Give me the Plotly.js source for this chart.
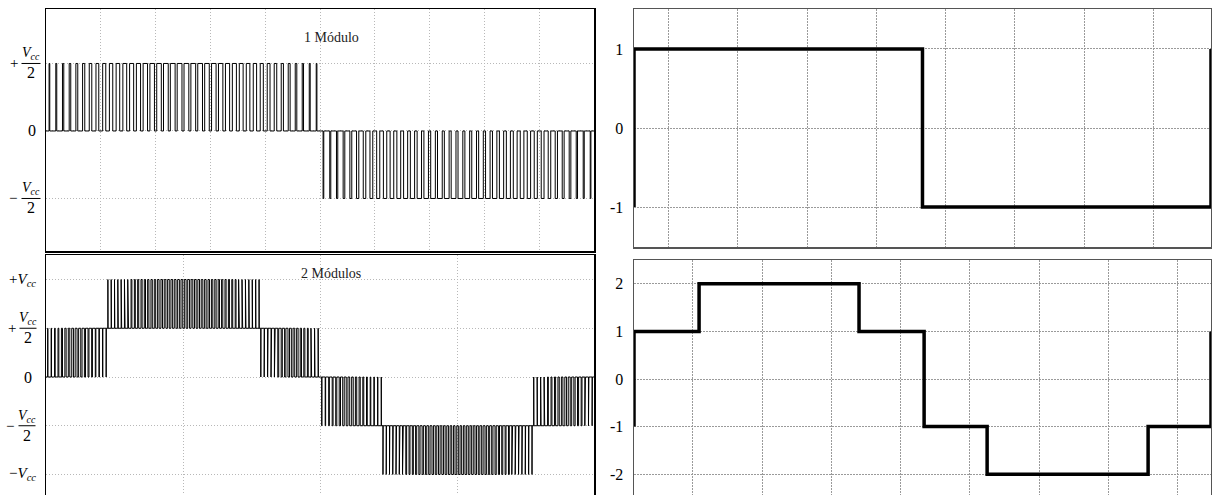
<!DOCTYPE html>
<html><head><meta charset="utf-8">
<script src="https://cdn.plot.ly/plotly-3.0.1.min.js"></script>
<style>html,body{margin:0;padding:0;overflow:hidden;background:#fff}#chart{width:1212px;height:500px}</style>
</head><body><div id="chart"></div>
<script>
// ---------------- data ----------------
// Top-left (1 Módulo): pulse duty per carrier period, positive and negative half-cycle
const duty1Pos = [0.10,0.14,0.19,0.23,0.28,0.32,0.37,0.41,0.45,0.49,0.52,0.56,0.59,0.61,0.64,0.66,0.67,0.69,0.70,0.70,
                  0.70,0.70,0.69,0.67,0.66,0.64,0.61,0.59,0.56,0.52,0.49,0.45,0.41,0.37,0.32,0.28,0.23,0.19,0.14,0.10];
const duty1Neg = [0.10,0.15,0.19,0.24,0.28,0.33,0.37,0.41,0.45,0.49,0.53,0.56,0.59,0.62,0.64,0.66,0.68,0.69,0.70,0.70,
                  0.70,0.70,0.69,0.68,0.66,0.64,0.62,0.59,0.56,0.53,0.49,0.45,0.41,0.37,0.33,0.28,0.24,0.19,0.15,0.10];
// Bottom-left (2 Módulos): duty per pulse in each level band
const dutyA = [0.06,0.12,0.18,0.24,0.30,0.36,0.42,0.48,0.54,0.60,0.66,0.71,0.76,0.81,0.86,0.90,0.94];
const dutyB = [0.04,0.07,0.10,0.13,0.16,0.19,0.22,0.25,0.28,0.31,0.33,0.36,0.38,0.40,0.42,0.44,0.46,0.48,0.49,0.50,0.51,0.52,0.52,
               0.52,0.52,0.51,0.50,0.49,0.48,0.46,0.44,0.42,0.40,0.38,0.36,0.33,0.31,0.28,0.25,0.22,0.19,0.16,0.13,0.10,0.07,0.04];
const dutyC = [0.94,0.90,0.86,0.81,0.76,0.71,0.66,0.60,0.54,0.48,0.42,0.36,0.30,0.24,0.18,0.12,0.06];
const segStart = [0.00, 1.10, 3.92, 5.00, 6.12, 8.90];
const segEnd   = [1.10, 3.92, 5.00, 6.12, 8.90, 10.00];
const segBase  = [0, 1, 0, 0, -1, 0];
const segPeak  = [1, 2, 1, -1, -2, -1];
const segDuty  = [dutyA, dutyB, dutyC, dutyA, dutyB, dutyC];
// Right panels (time in ms)
const tSquare = [0, 0, 8.333, 8.333, 16.667, 16.667];
const vSquare = [-1, 1, 1, -1, -1, 1];
const tStair = [0, 0, 1.88, 1.88, 6.50, 6.50, 8.38, 8.38, 10.20, 10.20, 14.85, 14.85, 16.667, 16.667];
const vStair = [-1, 1, 1, 2, 2, 1, 1, -1, -1, -2, -2, -1, -1, 1];
// Labels
const titleTop = '1 Módulo';
const titleBottom = '2 Módulos';
const rTopTickVals = [-1, 0, 1];
const rTopTickText = ['-1', '0', '1'];
const rBotTickVals = [-2, -1, 0, 1, 2];
const rBotTickText = ['-2', '-1', '0', '1', '2'];
const vccText = '<i>V</i><sub><i>cc</i></sub>';

// ---------------- build PWM traces ----------------
function pwm(x0, x1, base, peak, duties, out) {
  const n = duties.length, T = (x1 - x0) / n;
  out.x.push(x0); out.y.push(base);
  for (let i = 0; i < n; i++) {
    const c = x0 + (i + 0.5) * T, w = duties[i] * T;
    out.x.push(c - w / 2, c - w / 2, c + w / 2, c + w / 2);
    out.y.push(base, peak, peak, base);
  }
  out.x.push(x1); out.y.push(base);
}
const p1 = {x: [], y: []};
pwm(0, 5, 0, 1, duty1Pos, p1);
pwm(5, 10, 0, -1, duty1Neg, p1);
const p2 = {x: [], y: []};
for (let s = 0; s < segStart.length; s++) pwm(segStart[s], segEnd[s], segBase[s], segPeak[s], segDuty[s], p2);

const W = 1212, H = 500;
const SERIF = 'Liberation Serif, Times New Roman, serif';
const data = [
  {x: p1.x, y: p1.y, xaxis: 'x', yaxis: 'y', type: 'scatter', mode: 'lines', line: {color: '#000', width: 1}, hoverinfo: 'skip'},
  {x: p2.x, y: p2.y, xaxis: 'x2', yaxis: 'y2', type: 'scatter', mode: 'lines', line: {color: '#000', width: 1}, hoverinfo: 'skip'},
  {x: tSquare, y: vSquare, xaxis: 'x3', yaxis: 'y3', type: 'scatter', mode: 'lines', line: {color: '#000', width: 3.5}, hoverinfo: 'skip'},
  {x: tStair, y: vStair, xaxis: 'x4', yaxis: 'y4', type: 'scatter', mode: 'lines', line: {color: '#000', width: 3.5}, hoverinfo: 'skip'}
];

const leftGrid = {showgrid: true, gridcolor: '#b8b8b8', griddash: '1px,2px', gridwidth: 1, zeroline: false,
  showline: true, mirror: true, linecolor: '#000', linewidth: 1.5, ticks: '', showticklabels: false, fixedrange: true};
const rightGrid = {showgrid: true, gridcolor: '#9a9a9a', griddash: '2px,1px', gridwidth: 1, zeroline: false,
  showline: true, mirror: true, linecolor: '#555', linewidth: 1.5, ticks: '', showticklabels: false, fixedrange: true};
const px = v => v / W;
const py = v => 1 - v / H;

const layout = {
  width: W, height: H, margin: {l: 0, r: 0, t: 0, b: 0},
  paper_bgcolor: '#fff', plot_bgcolor: '#fff', showlegend: false,
  font: {family: SERIF, color: '#000'},
  xaxis:  Object.assign({}, leftGrid, {domain: [px(46), px(594)], range: [0, 10], anchor: 'y', tick0: 0, dtick: 1}),
  yaxis:  Object.assign({}, leftGrid, {domain: [py(251), py(9)], range: [-1.778, 1.807], anchor: 'x', tick0: 0, dtick: 1}),
  xaxis2: Object.assign({}, leftGrid, {domain: [px(46), px(594)], range: [0, 10], anchor: 'y2', tick0: 0, dtick: 2.5}),
  yaxis2: Object.assign({}, leftGrid, {domain: [py(499), py(255)], range: [-2.503, 2.503], anchor: 'x2', tick0: 0, dtick: 1}),
  xaxis3: Object.assign({}, rightGrid, {domain: [px(634), px(1211)], range: [0, 16.667], anchor: 'y3', tick0: 1, dtick: 2}),
  yaxis3: Object.assign({}, rightGrid, {domain: [py(247), py(9)], range: [-1.506, 1.506], anchor: 'x3',
    tickmode: 'array', tickvals: rTopTickVals, ticktext: rTopTickText, showticklabels: true, ticks: 'outside', ticklen: 6,
    tickcolor: 'rgba(0,0,0,0)', tickfont: {family: SERIF, size: 16, color: '#000'}}),
  xaxis4: Object.assign({}, rightGrid, {domain: [px(634), px(1211)], range: [0, 16.667], anchor: 'y4', tick0: 1.7, dtick: 2}),
  yaxis4: Object.assign({}, rightGrid, {domain: [py(498), py(260)], range: [-2.5, 2.5], anchor: 'x4',
    tickmode: 'array', tickvals: rBotTickVals, ticktext: rBotTickText, showticklabels: true, ticks: 'outside', ticklen: 6,
    tickcolor: 'rgba(0,0,0,0)', tickfont: {family: SERIF, size: 16, color: '#000'}}),
  annotations: [], shapes: []
};

function txt(text, xPx, yref, yv, opts) {
  layout.annotations.push(Object.assign({text: text, x: px(xPx), xref: 'paper', y: yv, yref: yref,
    showarrow: false, xanchor: 'center', yanchor: 'middle', font: {family: SERIF, size: 15, color: '#000'}}, opts || {}));
}
function frac(yref, yv, sign, signX, cx, half) {
  if (sign) txt(sign, signX, yref, yv, {font: {family: SERIF, size: 15, color: '#000'}});
  txt(vccText, cx, yref, yv, {yanchor: 'bottom', yshift: -1, font: {family: SERIF, size: 14, color: '#000'}});
  txt('2', cx, yref, yv, {yanchor: 'top', yshift: 1, font: {family: SERIF, size: 16, color: '#000'}});
  layout.shapes.push({type: 'line', xref: 'paper', yref: yref, x0: px(cx - half), x1: px(cx + half), y0: yv, y1: yv,
    line: {color: '#000', width: 1}});
}
// top-left labels
frac('y', 1, '+', 14, 31, 9.5);
txt('0', 32, 'y', 0, {font: {family: SERIF, size: 16, color: '#000'}});
frac('y', -1, '\u2212', 13, 31, 9.5);
// bottom-left labels
txt('+' + vccText, 38, 'y2', 2, {xanchor: 'right', font: {family: SERIF, size: 15, color: '#000'}});
frac('y2', 1, '+', 12, 28, 8.5);
txt('0', 28, 'y2', 0, {font: {family: SERIF, size: 16, color: '#000'}});
frac('y2', -1, '\u2212', 10, 27, 8.5);
txt('\u2212' + vccText, 38, 'y2', -2, {xanchor: 'right', font: {family: SERIF, size: 15, color: '#000'}});
// titles
txt(titleTop, 331, 'paper', py(38), {font: {family: SERIF, size: 14, color: '#222'}});
txt(titleBottom, 331, 'paper', py(273), {font: {family: SERIF, size: 14, color: '#222'}});

Plotly.newPlot('chart', data, layout, {staticPlot: true, displayModeBar: false});
</script></body></html>
